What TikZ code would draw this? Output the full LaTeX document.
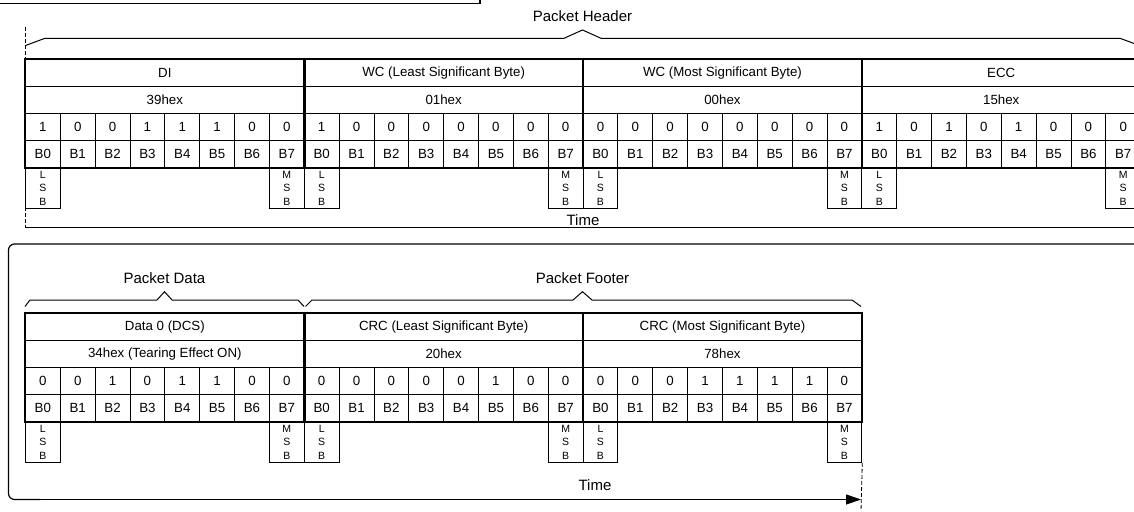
\documentclass[tikz,border=0pt]{standalone}
\usepackage{fontspec}
\setmainfont{Liberation Sans}
\usetikzlibrary{arrows.meta}
\tikzset{
  bitcell/.style={rectangle, draw=black, line width=0.9pt, anchor=north west,
                  minimum width=34.85pt, minimum height=27pt, inner sep=0pt,
                  font=\fontsize{13.3}{15}\selectfont},
  bytecell/.style={bitcell, minimum width=278.8pt},
  endbox/.style={bitcell, minimum height=41pt, align=center,
                 font=\fontsize{10.5}{13.5}\selectfont},
  bytebox/.style={draw=black, line width=1.8pt},
  brace/.style={draw=black, line width=1pt, line join=miter},
  frame/.style={draw=black, line width=1.2pt},
  guide/.style={draw=black, line width=0.8pt, dash pattern=on 4pt off 2pt},
  title/.style={font=\fontsize{15}{17}\selectfont},
  arrow/.style={-{Triangle[length=15pt, width=10pt]}, draw=black, line width=1.2pt},
}
\begin{document}
\begin{tikzpicture}[x=1pt, y=-1pt]
  \clip (0,0) rectangle (1134,511);
  \useasboundingbox (0,0) rectangle (1134,511);

  % caption box cut by the page
  \draw[frame] (-2,3.7) -- (480,3.7) -- (480,-2);

  % first line: packet header
  \draw[guide] (25,27) -- (25,228);
  \draw[brace] (25,45.7) -- (45,38.3) -- (564,38.3) -- (582.5,30) -- (601,38.3)
    -- (1120,38.3) -- (1140,45.7);
  \node[title] (hdr) at (582.5,16) {Packet Header};

  \foreach \lbl/\hexv/\bits [count=\k from 0] in {
      DI/39hex/{1,0,0,1,1,1,0,0},
      WC (Least Significant Byte)/01hex/{1,0,0,0,0,0,0,0},
      WC (Most Significant Byte)/00hex/{0,0,0,0,0,0,0,0},
      ECC/15hex/{1,0,1,0,1,0,0,0}}
  {
    \node[bytecell] (top-name-\k) at (25+278.8*\k, 59) {\lbl};
    \node[bytecell] (top-hex-\k) at (25+278.8*\k, 86) {\hexv};
    \foreach \b [count=\i from 0] in \bits {
      \node[bitcell] (top-bit-\k-\i) at ({25+278.8*\k+34.85*\i}, 113) {\b};
      \node[bitcell] (top-pos-\k-\i) at ({25+278.8*\k+34.85*\i}, 140) {B\i};
    }
    \node[endbox] (top-lsb-\k) at (25+278.8*\k, 167) {L\\S\\B};
    \node[endbox] (top-msb-\k) at (25+278.8*\k+243.95, 167) {M\\S\\B};
    \draw[bytebox] (top-name-\k.north west) rectangle (top-pos-\k-7.south east);
  }
  \node[title] (time1) at (583,220) {Time};
  \draw[frame] (25,227.7) -- (1140,227.7);

  % second line: packet data and footer
  \draw[brace] (25,306.5) -- (30,300) -- (157,300) -- (164.5,291.7) -- (172,300)
    -- (298,300) -- (304,306.5);
  \draw[brace] (305.5,306.5) -- (312,300) -- (573,300) -- (582.5,291.7) -- (592,300)
    -- (852,300) -- (861,306.5);
  \node[title] (data) at (164.5,278) {Packet Data};
  \node[title] (ftr) at (582.5,278) {Packet Footer};

  \foreach \lbl/\hexv/\bits [count=\k from 0] in {
      Data 0 (DCS)/34hex (Tearing Effect ON)/{0,0,1,0,1,1,0,0},
      CRC (Least Significant Byte)/20hex/{0,0,0,0,0,1,0,0},
      CRC (Most Significant Byte)/78hex/{0,0,0,1,1,1,1,0}}
  {
    \node[bytecell] (bot-name-\k) at (25+278.8*\k, 313) {\lbl};
    \node[bytecell] (bot-hex-\k) at (25+278.8*\k, 340) {\hexv};
    \foreach \b [count=\i from 0] in \bits {
      \node[bitcell] (bot-bit-\k-\i) at ({25+278.8*\k+34.85*\i}, 367) {\b};
      \node[bitcell] (bot-pos-\k-\i) at ({25+278.8*\k+34.85*\i}, 394) {B\i};
    }
    \node[endbox] (bot-lsb-\k) at (25+278.8*\k, 421) {L\\S\\B};
    \node[endbox] (bot-msb-\k) at (25+278.8*\k+243.95, 421) {M\\S\\B};
    \draw[bytebox] (bot-name-\k.north west) rectangle (bot-pos-\k-7.south east);
  }
  \node[title] (time2) at (595,485.5) {Time};

  \coordinate (tend) at (861,499.5);
  \draw[guide] (bot-msb-2.south east) -- (861,511);
  \draw[frame, rounded corners=6pt] (1140,244) -- (8.5,244) -- (8.5,499.5) -- (40,499.5);
  \draw[arrow] (30,499.5) -- (tend);
\end{tikzpicture}
\end{document}
